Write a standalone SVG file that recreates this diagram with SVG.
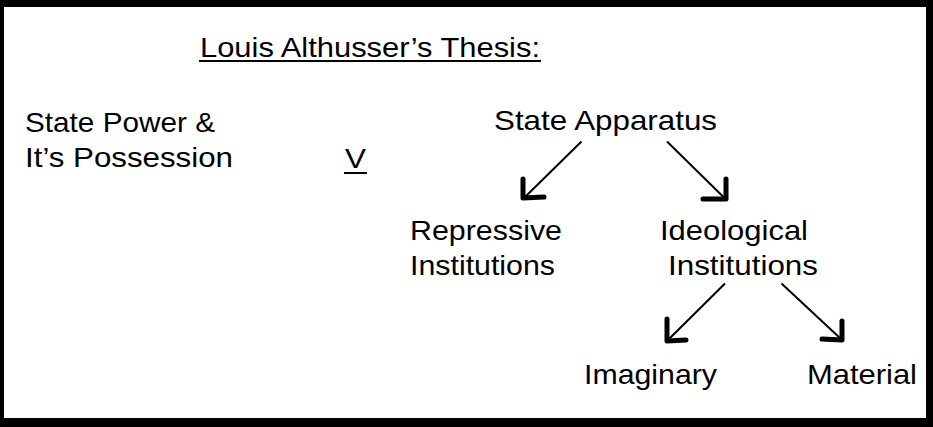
<svg xmlns="http://www.w3.org/2000/svg" width="933" height="427" viewBox="0 0 933 427">
<style>
text{font-family:"Liberation Sans",Arial,sans-serif;font-size:28px;fill:#000}
.ln{stroke:#000;stroke-width:2;fill:none}
.hd{stroke:#000;stroke-width:5;fill:none;stroke-linecap:round;stroke-linejoin:round}
.ul{stroke:#000;stroke-width:2}
</style>
<rect x="0" y="0" width="933" height="427" fill="#000"/>
<rect x="4" y="7" width="922" height="411" fill="#fff"/>
<g id="title">
<text x="200" y="57" font-size="31" textLength="340" lengthAdjust="spacingAndGlyphs">Louis Althusser’s Thesis:</text>
<line class="ul" x1="199" y1="61" x2="541" y2="61"/>
</g>
<g id="state-power">
<text x="25" y="131.5" textLength="190" lengthAdjust="spacingAndGlyphs">State Power &amp;</text>
<text x="25" y="167" textLength="208" lengthAdjust="spacingAndGlyphs">It’s Possession</text>
</g>
<g id="versus">
<text x="345" y="168" textLength="21" lengthAdjust="spacingAndGlyphs">V</text>
<line class="ul" x1="344" y1="173" x2="367" y2="173"/>
</g>
<g id="state-apparatus">
<text x="494" y="129.5" textLength="223" lengthAdjust="spacingAndGlyphs">State Apparatus</text>
</g>
<g id="repressive">
<text x="410" y="239.5" textLength="152" lengthAdjust="spacingAndGlyphs">Repressive</text>
<text x="410" y="275" textLength="145" lengthAdjust="spacingAndGlyphs">Institutions</text>
</g>
<g id="ideological">
<text x="660" y="239.5" textLength="148" lengthAdjust="spacingAndGlyphs">Ideological</text>
<text x="668" y="275" textLength="150" lengthAdjust="spacingAndGlyphs">Institutions</text>
</g>
<g id="imaginary">
<text x="584" y="383.5" textLength="133" lengthAdjust="spacingAndGlyphs">Imaginary</text>
</g>
<g id="material">
<text x="807" y="383.5" textLength="110" lengthAdjust="spacingAndGlyphs">Material</text>
</g>
<g id="connectors">
<line class="ln" x1="581.5" y1="141.5" x2="524" y2="198"/>
<polyline class="hd" points="523,179 523,198 544,197"/>
<line class="ln" x1="667" y1="141.5" x2="725.5" y2="199"/>
<polyline class="hd" points="726,179 726,199 703,199"/>
<line class="ln" x1="725" y1="283.5" x2="668" y2="340"/>
<polyline class="hd" points="667,319 667,341 686,340"/>
<line class="ln" x1="781.5" y1="283.5" x2="841" y2="339"/>
<polyline class="hd" points="842,321 842,340 822,339"/>
</g>
</svg>
